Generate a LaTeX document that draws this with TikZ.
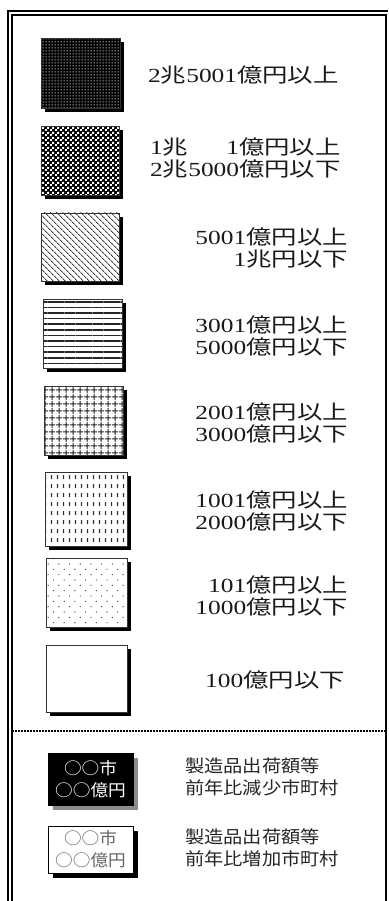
\documentclass[tikz,border=0pt]{standalone}
\usepackage{fontspec}
\setmainfont[FakeStretch=1.27]{Liberation Serif}
\newfontfamily\jm[FakeStretch=1.27]{Noto Sans CJK JP}
\newfontfamily\jg[FakeStretch=1.1]{Noto Sans CJK JP}
\newfontfamily\jb[FakeStretch=1.07]{Noto Sans CJK JP}
\newcommand\J[1]{{\jm #1}}
\newlength\lwid
\usetikzlibrary{patterns,patterns.meta,shadows}
\pgfdeclarepatternformonly{wdot}{\pgfpointorigin}{\pgfqpoint{3pt}{3pt}}{\pgfqpoint{3pt}{3pt}}{\pgfpathrectangle{\pgfqpoint{0.7pt}{0.7pt}}{\pgfqpoint{1.5pt}{1.5pt}}\pgfusepath{fill}}
\pgfdeclarepatternformonly{checker}{\pgfpointorigin}{\pgfqpoint{5pt}{5pt}}{\pgfqpoint{5pt}{5pt}}{\pgfpathrectangle{\pgfqpoint{0.15pt}{0.15pt}}{\pgfqpoint{2.2pt}{2.2pt}}\pgfpathrectangle{\pgfqpoint{2.65pt}{2.65pt}}{\pgfqpoint{2.2pt}{2.2pt}}\pgfusepath{fill}}
\pgfdeclarepatternformonly{vdash}{\pgfpointorigin}{\pgfqpoint{6.2pt}{8.5pt}}{\pgfqpoint{6.2pt}{8.5pt}}{\pgfpathrectangle{\pgfqpoint{2pt}{2pt}}{\pgfqpoint{1.4pt}{4.2pt}}\pgfusepath{fill}}
\pgfdeclarepatternformonly{sdots}{\pgfqpoint{-1pt}{-1pt}}{\pgfqpoint{10pt}{10pt}}{\pgfqpoint{10.7pt}{10.7pt}}{\pgfpathcircle{\pgfqpoint{0pt}{0pt}}{0.7pt}\pgfpathcircle{\pgfqpoint{5.35pt}{5.35pt}}{0.7pt}\pgfusepath{fill}}
\tikzset{
  swbox/.style={draw=black!80, line width=0.9pt, inner sep=0pt,
    drop shadow={shadow xshift=4pt, shadow yshift=-4pt, fill=black, opacity=1}},
  lgtext/.style={inner sep=0pt, text=black!90, font=\fontsize{20}{22}\selectfont},
  jptext/.style={inner sep=0pt, text=black!85, align=left, font=\jg\fontsize{17.5}{22}\selectfont},
  boxtext/.style={inner sep=0pt, align=center, font=\jb\fontsize{16.5}{22}\selectfont},
  frameouter/.style={line width=2.5pt, black},
  frameinner/.style={line width=1.5pt, black},
}
\begin{document}
\begin{tikzpicture}[x=1pt,y=-1pt]
\useasboundingbox (0,0) rectangle (388,901);
% frame
\coordinate (ot1) at (6.75,11); \coordinate (ot2) at (388,11);
\coordinate (ol2) at (8,901);
\coordinate (it1) at (11.75,15); \coordinate (it2) at (386,15);
\coordinate (il2) at (12,901); \coordinate (ir2) at (386,901);
\draw[frameouter] (ot1) -- (ot2);
\draw[frameouter] (8,9.75) -- (ol2);
\draw[frameinner] (it1) -- (it2);
\draw[frameinner] (12,14.25) -- (il2);
\draw[frameouter] (386,13.75) -- (ir2);
% separator
\coordinate (s1) at (12,731); \coordinate (s2) at (386,731);
\draw[line width=1.6pt, dash pattern=on 2pt off 1pt] (s1) -- (s2);

% swatches
\node[swbox, minimum width=79pt, minimum height=70pt, preaction={fill=black}, pattern=wdot, pattern color=white!85!black] (b1) at (80.5,73) {};
\node[swbox, minimum width=78pt, minimum height=69pt, preaction={fill=black}, pattern=checker, pattern color=white] (b2) at (80,160.5) {};
\node[swbox, minimum width=78pt, minimum height=68pt, preaction={fill=white}, pattern={Lines[angle=-45,distance=4pt,line width=1pt]}, pattern color=black!75] (b3) at (80,247) {};
\node[swbox, minimum width=79pt, minimum height=69pt, preaction={fill=white}, pattern={Lines[angle=0,distance=5.6pt,line width=1.6pt]}, pattern color=black!85] (b4) at (82.5,333.5) {};
\node[swbox, minimum width=79pt, minimum height=69pt, preaction={fill=white}, pattern={Hatch[angle=0,distance=6.5pt,line width=1.1pt]}, pattern color=black!85] (b5) at (83.5,420.5) {};
\node[swbox, minimum width=82pt, minimum height=74pt, preaction={fill=white}, pattern=vdash, pattern color=black!80] (b6) at (86,509) {};
\node[swbox, minimum width=81pt, minimum height=69pt, preaction={fill=white}, pattern=sdots, pattern color=black!70] (b7) at (86.5,592.5) {};
\node[swbox, minimum width=81pt, minimum height=67pt, fill=white] (b8) at (86.5,678.5) {};

% legend texts
\node[lgtext, anchor=west] (t1) at (148,75) {2\J{兆}5001\J{億円以上}};
\node[lgtext, anchor=west, align=left] (t2) at (150,157.5) {\settowidth{\lwid}{2\J{兆}5000\J{億円以下}}\makebox[\lwid][l]{1\J{兆}\hfill 1\J{億円以上}}\\2\J{兆}5000\J{億円以下}};
\node[lgtext, anchor=east, align=right] (t3) at (348,247.5) {5001\J{億円以上}\\1\J{兆円以下}};
\node[lgtext, anchor=east, align=right] (t4) at (348,335.5) {3001\J{億円以上}\\5000\J{億円以下}};
\node[lgtext, anchor=east, align=right] (t5) at (348,423) {2001\J{億円以上}\\3000\J{億円以下}};
\node[lgtext, anchor=east, align=right] (t6) at (348,510.5) {1001\J{億円以上}\\2000\J{億円以下}};
\node[lgtext, anchor=east, align=right] (t7) at (348,595.5) {101\J{億円以上}\\1000\J{億円以下}};
\node[lgtext, anchor=east] (t8) at (345,680) {100\J{億円以下}};

% bottom boxes
\node[draw=black, line width=0.9pt, fill=black, minimum width=85pt, minimum height=52pt, inner sep=0pt,
  drop shadow={shadow xshift=5pt, shadow yshift=-5pt, fill=black!45, opacity=1}] (b9) at (90.5,779) {};
\node[boxtext, text=white] (c9) at (b9.center) {○○市\\○○億円};
\node[draw=black, line width=0.9pt, fill=white, minimum width=85pt, minimum height=47pt, inner sep=0pt,
  drop shadow={shadow xshift=5pt, shadow yshift=-5pt, fill=black, opacity=1}] (b10) at (90.5,849.5) {};
\node[boxtext, text=black!60] (c10) at (b10.center) {○○市\\○○億円};

\node[jptext, anchor=west] (t9) at (185,777) {製造品出荷額等\\前年比減少市町村};
\node[jptext, anchor=west] (t10) at (185,847.5) {製造品出荷額等\\前年比増加市町村};
\end{tikzpicture}
\end{document}
